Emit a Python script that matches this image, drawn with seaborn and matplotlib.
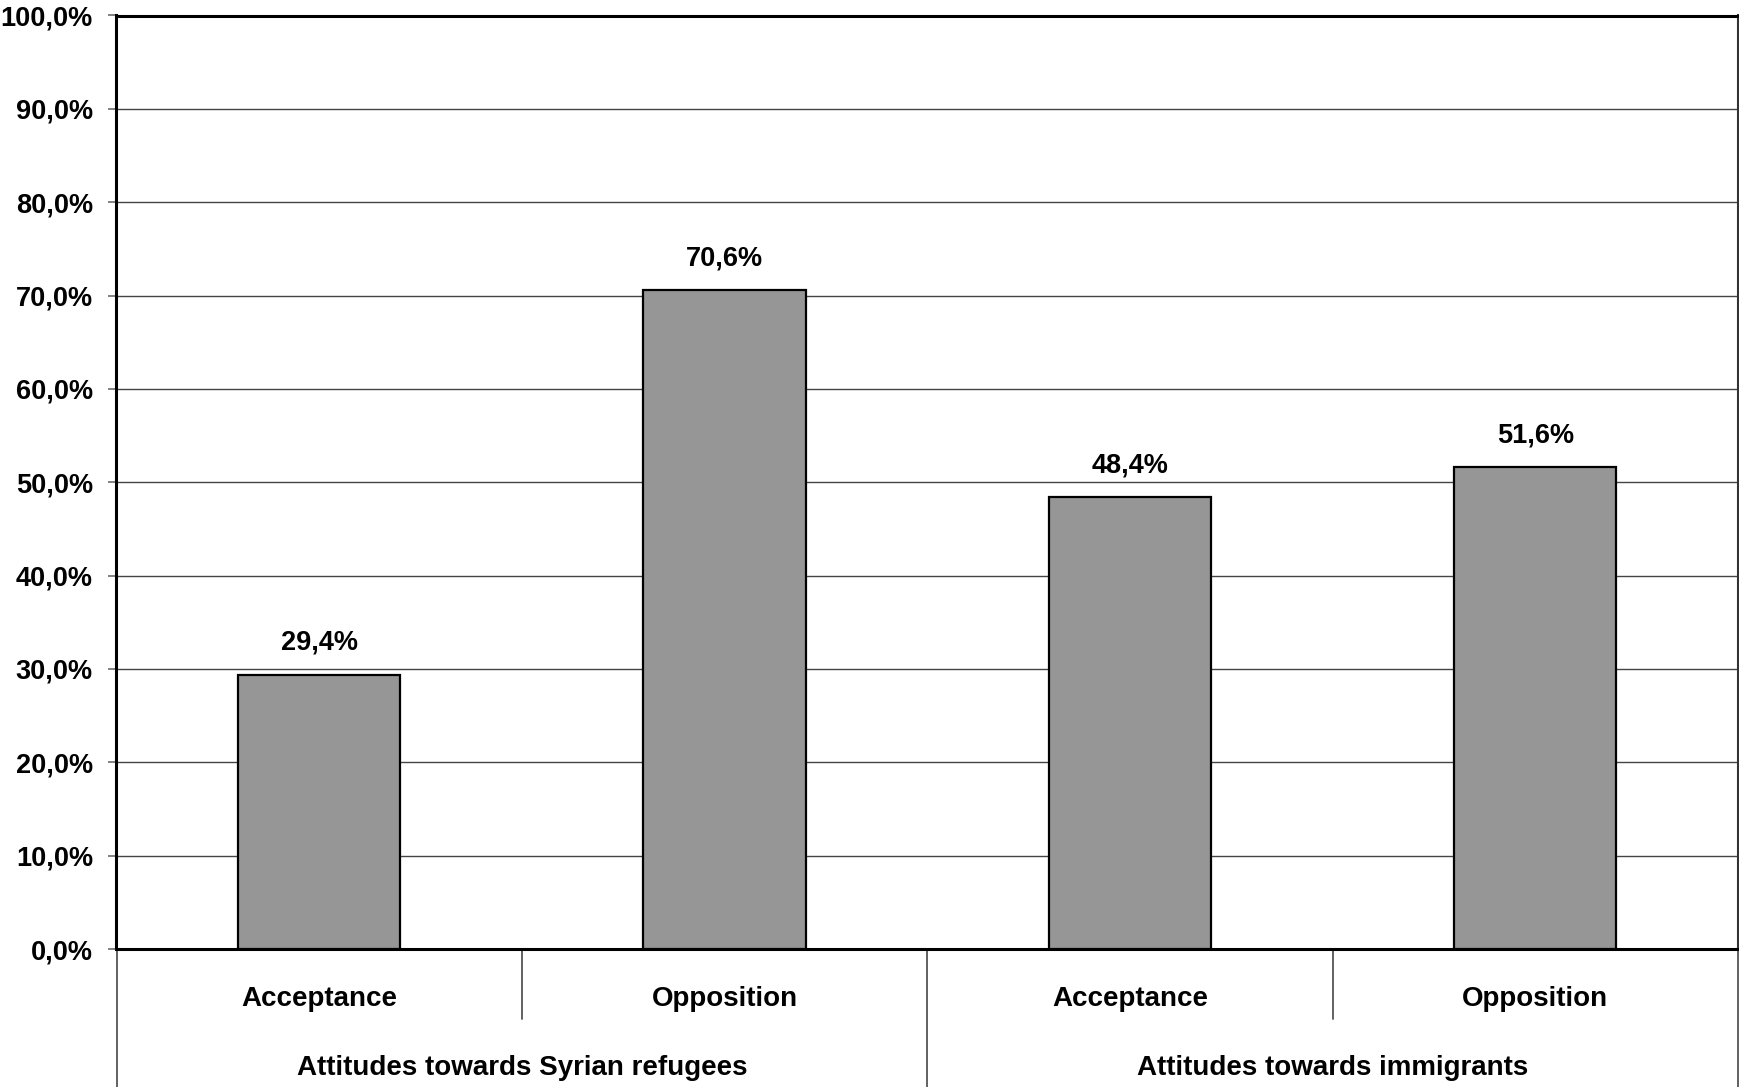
import matplotlib
matplotlib.use("Agg")
import matplotlib.pyplot as plt
import matplotlib.transforms as mtransforms
from matplotlib.ticker import FuncFormatter
import seaborn as sns
import pandas as pd

# Survey results: share of respondents per attitude
groups = ["Attitudes towards Syrian refugees", "Attitudes towards immigrants"]
categories = ["Acceptance", "Opposition"]
values = {
    "Attitudes towards Syrian refugees": [29.4, 70.6],
    "Attitudes towards immigrants": [48.4, 51.6],
}
y_ticks = [0, 10, 20, 30, 40, 50, 60, 70, 80, 90, 100]

rows = []
for g in groups:
    for c, v in zip(categories, values[g]):
        rows.append({"group": g, "category": c, "item": f"{g}|{c}", "value": v})
df = pd.DataFrame(rows)

sns.set_style("white")
plt.rcParams["font.family"] = ["Liberation Sans", "DejaVu Sans"]
plt.rcParams["font.weight"] = "bold"
plt.rcParams["text.color"] = "black"
plt.rcParams["ytick.color"] = "black"


def pct(v):
    return f"{v:.1f}".replace(".", ",") + "%"


W, H = 1740, 1087
fig = plt.figure(figsize=(W / 100, H / 100), dpi=100)
left, right, top, bottom = 116.5, 1738, 15.5, 949
ax = fig.add_axes([left / W, (H - bottom) / H, (right - left) / W, (bottom - top) / H])

sns.barplot(data=df, x="item", y="value", order=df["item"].tolist(),
            color="#969696", width=0.4, edgecolor="black", linewidth=1.6,
            saturation=1, ax=ax, zorder=3)

ax.set_xlim(-0.5, len(df) - 0.5)
ax.set_ylim(0, 100)
ax.set_yticks(y_ticks)
ax.yaxis.set_major_formatter(FuncFormatter(lambda v, p: pct(v)))
ax.grid(axis="y", color="#444444", linewidth=1.0, zorder=0)
ax.set_axisbelow(True)
ax.tick_params(axis="y", which="major", left=True, length=6, width=1.3,
               color="#777777", labelcolor="black", labelsize=19.5, pad=11)
for lab in ax.get_yticklabels():
    lab.set_fontweight("bold")
ax.set_xlabel("")
ax.set_ylabel("")
ax.set_xticks([])

for side in ["left", "bottom", "top"]:
    ax.spines[side].set_linewidth(2.2)
    ax.spines[side].set_color("black")
ax.spines["right"].set_linewidth(1.5)
ax.spines["right"].set_color("#333333")

# value labels above bars
for i, v in enumerate(df["value"]):
    ax.annotate(pct(v), (i, v), xytext=(0, 13.5),
                textcoords="offset points", ha="center", va="bottom",
                fontsize=19.5, fontweight="bold", color="black")

# two-level category axis
trans = mtransforms.blended_transform_factory(ax.transData, ax.transAxes)
ax_h = bottom - top
for i, c in enumerate(df["category"]):
    ax.text(i, -50 / ax_h, c, transform=trans, ha="center", va="center",
            fontsize=20, fontweight="bold", color="black")
n_per = len(categories)
for gi, g in enumerate(groups):
    centre = gi * n_per + (n_per - 1) / 2
    ax.text(centre, -119 / ax_h, g, transform=trans, ha="center", va="center",
            fontsize=20, fontweight="bold", color="black")

short_y = -70 / ax_h
long_y = -(H - bottom) / ax_h
for k in range(len(df) + 1):
    x = k - 0.5
    y_end = long_y if k % n_per == 0 else short_y
    ax.plot([x, x], [0, y_end], transform=trans, color="#555555",
            linewidth=1.3, clip_on=False, zorder=1)

fig.savefig("out.png", dpi=100)
